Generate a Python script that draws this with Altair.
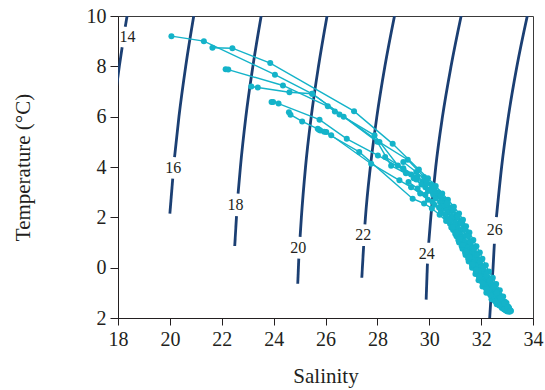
import altair as alt
import pandas as pd

NAVY = "#1b3f73"
CYAN = "#14b3c9"
INK = "#231f20"
FONT = "Liberation Serif, Times New Roman, Times, serif"

# ---- sigma-t contour segments (salinity, temperature) ----
c14_upper = [(18.35, 10.0), (18.28, 9.57)]
c14_lower = [(18.16, 8.76), (18.05, 8.0), (17.92, 7.0)]
c16_upper = [(20.92, 10.0), (20.61, 8.0), (20.35, 6.0), (20.18, 4.39)]
c16_lower = [(20.11, 3.54), (20.00, 2.15)]
c18_upper = [(23.52, 10.0), (23.20, 8.0), (22.93, 6.0), (22.72, 4.0), (22.63, 2.94)]
c18_lower = [(22.57, 2.05), (22.50, 0.86)]
c20_upper = [(26.06, 10.0), (25.73, 8.0), (25.45, 6.0), (25.23, 4.0), (25.07, 2.0), (25.02, 1.22)]
c20_lower = [(24.97, 0.36), (24.93, -0.64)]
c22_upper = [(28.66, 10.0), (28.29, 8.0), (27.98, 6.0), (27.73, 4.0), (27.54, 2.0), (27.52, 1.72)]
c22_lower = [(27.47, 0.86), (27.40, -0.40)]
c24_upper = [(31.23, 10.0), (30.84, 8.0), (30.51, 6.0), (30.25, 4.0), (30.06, 2.0), (29.98, 0.99)]
c24_lower = [(29.93, 0.16), (29.88, -1.27)]
c26_upper = [(33.78, 10.0), (33.38, 8.0), (33.05, 6.0), (32.79, 4.0), (32.59, 2.01)]
c26_lower = [(32.51, 0.95), (32.46, 0.0), (32.39, -1.0), (32.33, -2.0)]

contour_labels = ["14", "16", "18", "20", "22", "24", "26"]
contour_label_S = [18.37, 20.13, 22.53, 24.95, 27.46, 29.90, 32.53]
contour_label_T = [9.15, 3.96, 2.48, 0.78, 1.28, 0.56, 1.48]

# ---- T-S profiles (salinity, temperature) ----
profile_1 = [(20.06, 9.20), (21.31, 9.00), (24.05, 7.67), (25.49, 6.91), (28.08, 4.99), (29.17, 4.29),
             (29.8, 3.6), (30.1, 3.3), (30.35, 3.0), (30.6, 2.7), (30.85, 2.4), (31.05, 2.1), (31.2, 1.85),
             (31.35, 1.6), (31.5, 1.3), (31.62, 1.05), (31.75, 0.8), (31.85, 0.55), (31.98, 0.3), (32.1, 0.05),
             (32.22, -0.2), (32.35, -0.45), (32.5, -0.7), (32.62, -0.9), (32.78, -1.15), (32.92, -1.35),
             (33.05, -1.55), (33.15, -1.72)]
profile_2 = [(22.15, 7.88), (22.25, 7.87), (24.36, 7.24), (26.09, 6.41), (26.36, 6.21), (26.54, 6.09),
             (27.89, 5.26), (28.79, 4.06), (29.3, 3.7), (29.75, 3.4), (30.05, 3.1), (30.3, 2.85), (30.55, 2.55),
             (30.75, 2.3), (30.95, 2.0), (31.1, 1.75), (31.2, 1.5), (31.32, 1.25), (31.48, 1.0), (31.6, 0.75),
             (31.72, 0.5), (31.83, 0.25), (31.95, 0.0), (32.08, -0.25), (32.2, -0.5), (32.35, -0.75),
             (32.52, -1.0), (32.68, -1.25), (32.85, -1.45), (33.0, -1.62), (33.1, -1.75)]
profile_3 = [(21.64, 8.74), (22.41, 8.72), (23.87, 8.13), (27.10, 6.22), (28.59, 4.92), (29.6, 3.9),
             (29.95, 3.55), (30.25, 3.25), (30.5, 2.95), (30.72, 2.7), (30.95, 2.42), (31.15, 2.15), (31.3, 1.9),
             (31.42, 1.65), (31.55, 1.4), (31.7, 1.1), (31.82, 0.85), (31.95, 0.6), (32.05, 0.35), (32.18, 0.1),
             (32.3, -0.15), (32.45, -0.4), (32.58, -0.65), (32.72, -0.9), (32.85, -1.15), (32.98, -1.4),
             (33.08, -1.6), (33.13, -1.7)]
profile_4 = [(23.14, 7.20), (23.39, 7.16), (24.61, 6.97), (25.49, 6.91), (26.7, 6.0), (28.0, 5.0),
             (28.53, 4.05), (29.1, 3.75), (29.5, 3.5), (29.85, 3.2), (30.15, 2.9), (30.42, 2.6), (30.62, 2.35),
             (30.85, 2.05), (31.0, 1.8), (31.1, 1.55), (31.22, 1.3), (31.35, 1.05), (31.48, 0.8), (31.6, 0.55),
             (31.72, 0.3), (31.85, 0.05), (31.98, -0.2), (32.1, -0.45), (32.25, -0.7), (32.4, -0.95),
             (32.58, -1.2), (32.75, -1.4), (32.92, -1.6), (33.05, -1.72)]
profile_5 = [(23.92, 6.58), (23.98, 6.58), (24.19, 6.52), (25.77, 5.88), (26.82, 5.12), (28.02, 4.46),
             (29.0, 3.9), (29.4, 3.55), (29.7, 3.3), (29.95, 3.05), (30.25, 2.75), (30.5, 2.45), (30.7, 2.2),
             (30.85, 1.95), (30.98, 1.7), (31.1, 1.45), (31.2, 1.2), (31.32, 0.95), (31.45, 0.7), (31.55, 0.45),
             (31.68, 0.2), (31.8, -0.05), (31.92, -0.3), (32.05, -0.55), (32.2, -0.8), (32.35, -1.05),
             (32.52, -1.3), (32.7, -1.5), (32.88, -1.65), (33.0, -1.72)]
profile_6 = [(24.59, 6.18), (24.65, 6.08), (25.10, 5.81), (25.70, 5.52), (25.80, 5.45), (26.03, 5.39),
             (26.22, 5.26), (27.76, 4.13), (28.85, 3.47), (29.3, 3.2), (29.65, 2.95), (29.95, 2.7), (30.2, 2.5),
             (30.45, 2.25), (30.65, 2.0), (30.8, 1.75), (30.92, 1.5), (31.05, 1.25), (31.15, 1.0), (31.28, 0.75),
             (31.4, 0.5), (31.52, 0.25), (31.65, 0.0), (31.78, -0.25), (31.9, -0.5), (32.05, -0.75),
             (32.2, -1.0), (32.4, -1.25), (32.6, -1.45), (32.8, -1.6), (32.95, -1.7)]
profile_7 = [(25.75, 5.48), (25.95, 5.40), (27.3, 4.6), (29.36, 2.74), (29.8, 2.55), (30.1, 2.35),
             (30.4, 2.1), (30.65, 1.85), (30.85, 1.6), (31.0, 1.35), (31.12, 1.1), (31.25, 0.85), (31.38, 0.6),
             (31.5, 0.35), (31.65, 0.1), (31.8, -0.15), (31.95, -0.4), (32.1, -0.65), (32.28, -0.9),
             (32.45, -1.15), (32.62, -1.35), (32.8, -1.55), (32.98, -1.7)]
profile_8 = [(28.3, 4.4), (29.0, 3.95), (29.55, 3.6), (29.9, 3.35), (30.2, 3.05), (30.45, 2.8), (30.68, 2.52),
             (30.9, 2.25), (31.08, 2.0), (31.2, 1.75), (31.32, 1.5), (31.42, 1.28), (31.55, 1.02), (31.65, 0.8),
             (31.77, 0.57), (31.88, 0.33), (32.0, 0.1), (32.12, -0.13), (32.25, -0.37), (32.38, -0.6),
             (32.52, -0.83), (32.66, -1.05), (32.8, -1.27), (32.95, -1.47), (33.07, -1.64)]
profile_9 = [(29.2, 3.4), (29.55, 3.15), (29.85, 2.9), (30.12, 2.62), (30.38, 2.38), (30.6, 2.12),
             (30.78, 1.88), (30.92, 1.62), (31.05, 1.4), (31.18, 1.14), (31.3, 0.9), (31.42, 0.64), (31.55, 0.4),
             (31.67, 0.14), (31.8, -0.1), (31.92, -0.35), (32.05, -0.6), (32.2, -0.85), (32.36, -1.1),
             (32.54, -1.33), (32.72, -1.5), (32.9, -1.66), (33.02, -1.74)]
profile_10 = [(29.0, 4.2), (29.5, 3.8), (29.9, 3.45), (30.2, 3.15), (30.45, 2.87), (30.7, 2.58), (30.92, 2.3),
              (31.1, 2.03), (31.25, 1.78), (31.38, 1.52), (31.5, 1.25), (31.6, 1.0), (31.72, 0.75), (31.84, 0.5),
              (31.95, 0.25), (32.08, -0.02), (32.2, -0.27), (32.33, -0.52), (32.47, -0.77), (32.6, -1.0),
              (32.75, -1.22), (32.9, -1.42), (33.02, -1.58), (33.12, -1.7)]

x_ticks = [18, 20, 22, 24, 26, 28, 30, 32, 34]
y_ticks = [-2, 0, 2, 4, 6, 8, 10]

# ---- tables ----
segments = {
    "14a": c14_upper, "14b": c14_lower, "16a": c16_upper, "16b": c16_lower,
    "18a": c18_upper, "18b": c18_lower, "20a": c20_upper, "20b": c20_lower,
    "22a": c22_upper, "22b": c22_lower, "24a": c24_upper, "24b": c24_lower,
    "26a": c26_upper, "26b": c26_lower,
}
contour_df = pd.DataFrame(
    [{"seg": k, "S": s, "T": t} for k, pts in segments.items() for s, t in pts]
)
label_df = pd.DataFrame({"S": contour_label_S, "T": contour_label_T, "txt": contour_labels})

profiles = [profile_1, profile_2, profile_3, profile_4, profile_5, profile_6, profile_7,
            profile_8, profile_9, profile_10]
prof_df = pd.DataFrame(
    [{"prof": f"P{i+1}", "idx": j, "S": s, "T": t}
     for i, p in enumerate(profiles) for j, (s, t) in enumerate(p)]
)

xscale = alt.Scale(domain=[18, 34], nice=False, zero=False)
yscale = alt.Scale(domain=[-2, 10], nice=False, zero=False)

x_enc = alt.X(
    "S:Q", scale=xscale,
    axis=alt.Axis(
        values=x_ticks, title="Salinity", grid=False, tickSize=7, labelPadding=4,
        labelFont=FONT, labelFontSize=20, labelColor=INK, labelFlush=False,
        titleFont=FONT, titleFontSize=21, titleFontWeight="normal", titleColor=INK,
        titleY=64, titleBaseline="alphabetic",
        tickColor=INK, domainColor=INK,
    ),
)
y_enc = alt.Y(
    "T:Q", scale=yscale,
    axis=alt.Axis(
        values=y_ticks, title="Temperature (°C)", grid=False, tickSize=8, labelPadding=4,
        labelFont=FONT, labelFontSize=20, labelColor=INK, labelFlush=False,
        labelExpr="datum.value == -2 ? '2' : datum.label",
        titleFont=FONT, titleFontSize=21, titleFontWeight="normal", titleColor=INK,
        titleX=-95, titleY=151, titleBaseline="middle", titleAlign="center",
        tickColor=INK, domainColor=INK,
    ),
)

contours = alt.Chart(contour_df).mark_line(
    color=NAVY, strokeWidth=2.8, interpolate="monotone", clip=True
).encode(x=x_enc, y=y_enc, detail="seg:N")

labels = alt.Chart(label_df).mark_text(
    font=FONT, fontSize=16, color=INK
).encode(x=x_enc, y=y_enc, text="txt:N")

prof_lines = alt.Chart(prof_df).mark_line(
    color=CYAN, strokeWidth=1.4, clip=True
).encode(x=x_enc, y=y_enc, detail="prof:N", order="idx:Q")

prof_pts = alt.Chart(prof_df).mark_circle(
    color=CYAN, size=36, opacity=1, clip=True
).encode(x=x_enc, y=y_enc)

chart = alt.layer(contours, labels, prof_lines, prof_pts).properties(
    width=415, height=302,
    autosize="none",
    padding={"left": 118, "top": 16, "right": 12, "bottom": 72},
    background="white",
).configure_view(stroke="#3a3a3a", strokeWidth=1)

chart.save("out.html", embed_options={"renderer": "svg", "actions": False})
